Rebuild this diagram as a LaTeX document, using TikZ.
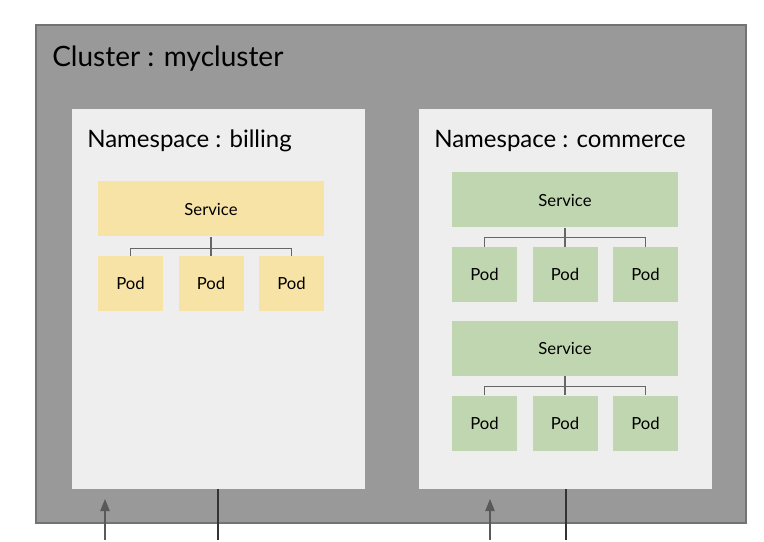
\documentclass[tikz,border=0pt]{standalone}
\usepackage{fontspec}
\setmainfont{Lato}
\usepackage{tikz}
\usetikzlibrary{arrows.meta,positioning}
\definecolor{clustergray}{HTML}{999999}
\definecolor{nsgray}{HTML}{EEEEEE}
\definecolor{svcyellow}{HTML}{F8E3A6}
\definecolor{svcgreen}{HTML}{C0D6B0}

\begin{document}
\begin{tikzpicture}[
    x=0.75pt, y=-0.75pt,
    cluster/.style={draw=black!55, line width=0.8pt, fill=clustergray, minimum width=532.5pt, minimum height=373.5pt, inner sep=0pt},
    namespace/.style={fill=nsgray, minimum width=219.75pt, minimum height=285pt, inner sep=0pt},
    svc/.style={minimum width=169.5pt, minimum height=41.25pt, inner sep=0pt, font=\fontsize{12.5}{15}\selectfont},
    pod/.style={minimum width=48.75pt, minimum height=41.25pt, inner sep=0pt, font=\fontsize{12.5}{15}\selectfont},
    link/.style={draw=black!60, line width=0.9pt},
    title/.style={anchor=base west, inner sep=0pt},
    upward/.style={-{Triangle[length=9pt, width=7pt]}, draw=black!65, line width=0.9pt},
    down/.style={draw=black!80, line width=1.8pt}
]
% background, fixes the margins
\fill[white] (0,0) rectangle (764,540);

% CLUSTER
\node[cluster] (cluster) at (391,274) {};
\node[title, font=\fontsize{21}{25}\selectfont] (clustertitle) at (52,67) {Cluster : mycluster};

% NAMESPACES
\node[namespace] (nsbilling) at (218.5,299) {};
\node[namespace] (nscommerce) at (565.5,299) {};
\node[title, font=\fontsize{18}{21}\selectfont] (billingtitle) at (87,148) {Namespace : billing};
\node[title, font=\fontsize{18}{21}\selectfont] (commercetitle) at (434,148) {Namespace : commerce};

% BILLING: service + pods
\begin{scope}[every node/.append style={fill=svcyellow}]
    \node[svc] (bsvc) at (211,209) {Service};
    \node[pod, below=14.25pt of bsvc] (bpod2) {Pod};
    \node[pod, left=11.25pt of bpod2] (bpod1) {Pod};
    \node[pod, right=11.25pt of bpod2] (bpod3) {Pod};
\end{scope}
\draw[link] (bpod1.north) -- ++(0,-7) -| (bpod3.north);
\draw[link] (bsvc.south) -- (bpod2.north);

% COMMERCE: first service + pods
\begin{scope}[every node/.append style={fill=svcgreen}]
    \node[svc] (csvcA) at (565,200) {Service};
    \node[pod, below=14.25pt of csvcA] (cpodA2) {Pod};
    \node[pod, left=11.25pt of cpodA2] (cpodA1) {Pod};
    \node[pod, right=11.25pt of cpodA2] (cpodA3) {Pod};
\end{scope}
\draw[link] (cpodA1.north) -- ++(0,-9) -| (cpodA3.north);
\draw[link] (csvcA.south) -- (cpodA2.north);

% COMMERCE: second service + pods
\begin{scope}[every node/.append style={fill=svcgreen}]
    \node[svc] (csvcB) at (565,348.5) {Service};
    \node[pod, below=14.25pt of csvcB] (cpodB2) {Pod};
    \node[pod, left=11.25pt of cpodB2] (cpodB1) {Pod};
    \node[pod, right=11.25pt of cpodB2] (cpodB3) {Pod};
\end{scope}
\draw[link] (cpodB1.north) -- ++(0,-9) -| (cpodB3.north);
\draw[link] (csvcB.south) -- (cpodB2.north);

% IN / OUT at the bottom edge
\coordinate (billingin) at (105,540);
\coordinate (billingtip) at (105,499);
\coordinate (billingout) at (218,540);
\coordinate (commercein) at (490,540);
\coordinate (commercetip) at (490,499);
\coordinate (commerceout) at (566,540);
\draw[upward] (billingin) -- (billingtip);
\draw[upward] (commercein) -- (commercetip);
\draw[down] (nsbilling.south -| billingout) -- (billingout);
\draw[down] (nscommerce.south -| commerceout) -- (commerceout);
\end{tikzpicture}
\end{document}
